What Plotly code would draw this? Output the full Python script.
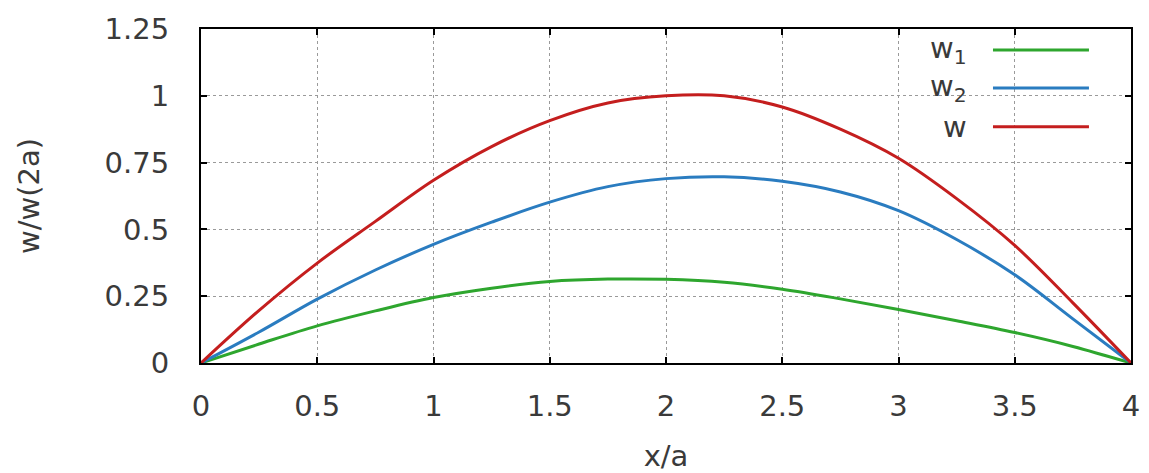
import plotly.graph_objects as go

x_vals = [0, 0.25, 0.5, 0.75, 1.0, 1.25, 1.5, 1.75, 2.0, 2.25, 2.5, 2.75, 3.0, 3.25, 3.5, 3.75, 4.0]
w1_vals = [0, 0.071, 0.139, 0.195, 0.245, 0.280, 0.305, 0.314, 0.313, 0.302, 0.276, 0.240, 0.200, 0.158, 0.114, 0.062, 0]
w2_vals = [0, 0.116, 0.239, 0.348, 0.444, 0.527, 0.602, 0.660, 0.690, 0.697, 0.680, 0.640, 0.570, 0.462, 0.330, 0.165, 0]
w_vals = [0, 0.197, 0.374, 0.530, 0.684, 0.810, 0.907, 0.973, 1.0, 1.0, 0.958, 0.875, 0.766, 0.615, 0.440, 0.225, 0]

x_ticks = [0, 0.5, 1, 1.5, 2, 2.5, 3, 3.5, 4]
x_tick_labels = ["0", "0.5", "1", "1.5", "2", "2.5", "3", "3.5", "4"]
y_ticks = [0, 0.25, 0.5, 0.75, 1, 1.25]
y_tick_labels = ["0", "0.25", "0.5", "0.75", "1", "1.25"]

series_names = ["w<sub>1</sub>", "w<sub>2</sub>", "w"]
series_colors = ["#2ea62e", "#2a7cc0", "#c41e1e"]
series_values = [w1_vals, w2_vals, w_vals]

FONT = "DejaVu Sans"
TXT = "#3a3a3a"

fig = go.Figure()
for name, color, vals in zip(series_names, series_colors, series_values):
    fig.add_trace(go.Scatter(
        x=x_vals, y=vals, mode="lines", name=name,
        line=dict(color=color, width=3, shape="spline", smoothing=1.0),
        showlegend=False,
    ))

axis_common = dict(
    showline=True, linecolor="black", linewidth=2, mirror="ticks",
    ticks="inside", ticklen=6, tickwidth=1.5, tickcolor="black",
    showgrid=True, gridcolor="#9a9a9a", griddash="dot", gridwidth=1,
    zeroline=False, automargin=False,
    tickfont=dict(family=FONT, size=29, color=TXT),
)

fig.update_xaxes(
    range=[0, 4], tickvals=x_ticks, ticktext=x_tick_labels,
    ticklabelstandoff=16,
    title=dict(text="x/a", font=dict(family=FONT, size=29, color=TXT), standoff=26),
    **axis_common,
)
fig.update_yaxes(
    range=[0, 1.25], tickvals=y_ticks, ticktext=y_tick_labels,
    ticklabelstandoff=24,
    title=dict(text="w/w(2a)", font=dict(family=FONT, size=29, color=TXT), standoff=56),
    **axis_common,
)

# manual legend (text on the left, line sample on the right)
legend_y = [0.937, 0.823, 0.707]
for name, color, ly in zip(series_names, series_colors, legend_y):
    fig.add_shape(type="line", xref="paper", yref="paper",
                  x0=0.8516, x1=0.9548, y0=ly, y1=ly,
                  line=dict(color=color, width=3))
    fig.add_annotation(xref="paper", yref="paper", x=0.826, y=ly,
                       xanchor="right", yanchor="middle", showarrow=False,
                       text=name, font=dict(family=FONT, size=29, color=TXT))

fig.update_layout(
    width=1149, height=473,
    margin=dict(l=201, r=18, t=29, b=110),
    paper_bgcolor="white", plot_bgcolor="white",
)

fig.write_html("out.html")
